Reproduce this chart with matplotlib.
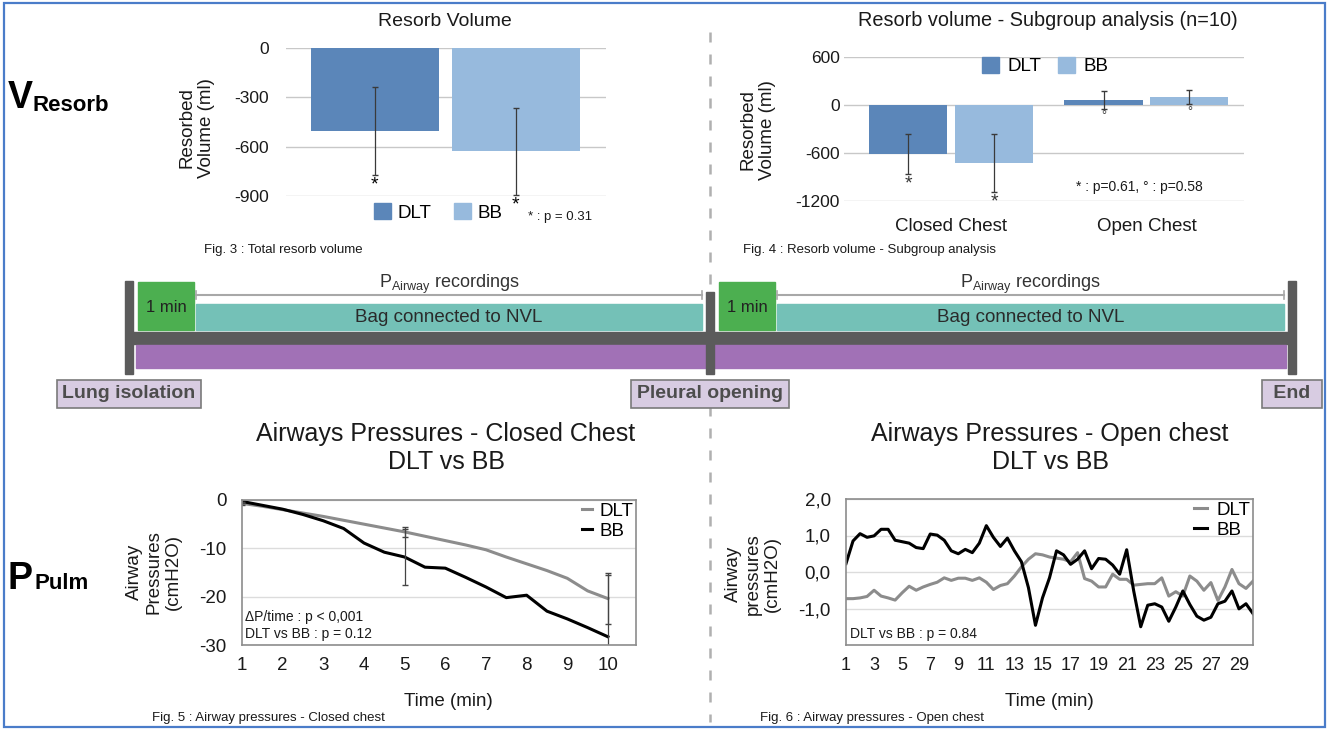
import matplotlib
matplotlib.use('Agg')
import matplotlib.pyplot as plt
from matplotlib.patches import Rectangle, Patch
import numpy as np

plt.rcParams['font.family'] = ['Liberation Sans', 'DejaVu Sans']
plt.rcParams['mathtext.fontset'] = 'custom'
plt.rcParams['mathtext.rm'] = 'Liberation Sans'
plt.rcParams['axes.unicode_minus'] = False

W, H = 1329, 730

# Fig. 3 : total resorb volume
resorb_groups = ['DLT', 'BB']
resorb_mean = [-505, -627]
resorb_err = [265, 265]

# Fig. 4 : subgroup analysis
subgroup_categories = ['Closed Chest', 'Open Chest']
subgroup_dlt = [-612, 60]
subgroup_dlt_err = [250, 110]
subgroup_bb = [-725, 100]
subgroup_bb_err = [360, 90]
subgroup_marks = ['*', '°']

# Fig. 5 : airway pressures, closed chest
closed_time = [1, 1.5, 2, 2.5, 3, 3.5, 4, 4.5, 5, 5.5, 6, 6.5, 7, 7.5, 8, 8.5, 9, 9.5, 10]
closed_dlt = [-0.7, -1.3, -2.0, -2.7, -3.4, -4.2, -5.0, -5.8, -6.6, -7.5, -8.4, -9.3, -10.3,
              -11.8, -13.2, -14.6, -16.2, -18.8, -20.4]
closed_bb = [-0.3, -1.1, -1.9, -3.0, -4.3, -5.9, -8.9, -10.8, -11.8, -13.9, -14.1, -16.0, -18.0,
             -20.2, -19.7, -23.0, -24.6, -26.4, -28.3]
closed_err_time = [1, 5, 10]
closed_dlt_err = [0.3, 1.0, 5.3]
closed_bb_err = [0.3, 5.7, 12.7]

# Fig. 6 : airway pressures, open chest
open_time = [1, 1.5, 2, 2.5, 3, 3.5, 4, 4.5, 5, 5.5, 6, 6.5, 7, 7.5, 8, 8.5, 9, 9.5, 10, 10.5,
             11, 11.5, 12, 12.5, 13, 13.5, 14, 14.5, 15, 15.5, 16, 16.5, 17, 17.5, 18, 18.5, 19, 19.5,
             20, 20.5, 21, 21.5, 22, 22.5, 23, 23.5, 24, 24.5, 25, 25.5, 26, 26.5, 27, 27.5, 28, 28.5,
             29, 29.5, 30]
open_dlt = [-0.73, -0.73, -0.71, -0.67, -0.50, -0.66, -0.71, -0.77, -0.57, -0.39,
            -0.50, -0.41, -0.34, -0.28, -0.16, -0.23, -0.17, -0.17, -0.23, -0.16,
            -0.28, -0.48, -0.37, -0.32, -0.11, 0.14, 0.35, 0.50, 0.47, 0.41,
            0.38, 0.35, 0.28, 0.53, -0.18, -0.25, -0.41, -0.41, -0.06, -0.20,
            -0.20, -0.36, -0.34, -0.32, -0.32, -0.16, -0.66, -0.54, -0.66, -0.11,
            -0.25, -0.50, -0.29, -0.78, -0.41, 0.07, -0.32, -0.45, -0.25]
open_bb = [0.23, 0.85, 1.05, 0.95, 0.99, 1.17, 1.17, 0.87, 0.83, 0.79,
           0.67, 0.64, 1.04, 1.01, 0.87, 0.58, 0.50, 0.62, 0.53, 0.79,
           1.27, 0.95, 0.70, 0.93, 0.58, 0.28, -0.43, -1.46, -0.71, -0.16,
           0.58, 0.47, 0.21, 0.35, 0.58, 0.09, 0.37, 0.35, 0.19, -0.06,
           0.61, -0.52, -1.50, -0.91, -0.87, -0.96, -1.35, -0.96, -0.52, -0.89,
           -1.21, -1.32, -1.24, -0.87, -0.80, -0.52, -1.01, -0.87, -1.14]
open_xticks = [1, 3, 5, 7, 9, 11, 13, 15, 17, 19, 21, 23, 25, 27, 29]
open_yticks = [2, 1, 0, -1]
open_ytick_labels = ['2,0', '1,0', '0,0', '-1,0']

# protocol timeline
timeline_events = ['Lung isolation', 'Pleural opening', ' End ']
phase_wait = '1 min'
phase_bag = 'Bag connected to NVL'
phase_record = r'P$_{\mathregular{Airway}}$ recordings'

C_DLT_BAR = '#5b86b9'
C_BB_BAR = '#97badd'
C_DLT_LINE = '#8c8c8c'
C_BB_LINE = '#000000'
C_TEXT = '#1a1a1a'


def px_axes(fig, left, top, right, bottom):
    """Axes placed by pixel box of the 1329x730 canvas."""
    ax = fig.add_axes([left / W, 1 - bottom / H, (right - left) / W, (bottom - top) / H])
    ax.set_facecolor('none')
    return ax


def bar_style(ax, ticks):
    ax.set_yticks(ticks)
    ax.grid(axis='y', color='#c8c8c8', lw=1)
    ax.set_axisbelow(True)
    for s in ax.spines.values():
        s.set_visible(False)
    ax.tick_params(length=0, labelsize=12.5, colors=C_TEXT)


def line_style(ax):
    ax.grid(axis='y', color='#dcdcdc', lw=1)
    ax.set_axisbelow(True)
    for s in ax.spines.values():
        s.set_color('#8c8c8c')
        s.set_linewidth(1.2)
    ax.tick_params(length=0, labelsize=13.5, colors=C_TEXT)
    ax.tick_params(axis='y', pad=11)
    ax.tick_params(axis='x', pad=9)


fig = plt.figure(figsize=(W / 100, H / 100), dpi=100)

# overlay for the diagram and loose texts, in pixel coordinates
ov = fig.add_axes([0, 0, 1, 1], zorder=0)
ov.set_xlim(0, W)
ov.set_ylim(H, 0)
ov.axis('off')

ov.add_patch(Rectangle((4, 3), W - 8, H - 6, fill=False, ec='#4a7cc9', lw=1.6))
ov.plot([710, 710], [32, 722], color='#b0b0b0', lw=1.8, linestyle=(0, (4, 4.8)), zorder=1)

# --- Fig. 3
ax1 = px_axes(fig, 286, 48, 606, 196)
pos = np.arange(len(resorb_groups))
ax1.bar(pos, resorb_mean, width=0.91, color=[C_DLT_BAR, C_BB_BAR], zorder=2)
ax1.errorbar(pos, resorb_mean, yerr=resorb_err, fmt='none', ecolor='#3a3a3a', elinewidth=0.9,
             capsize=2, zorder=3)
for p, m, e in zip(pos, resorb_mean, resorb_err):
    ax1.annotate('*', (p, max(m - e, -900)), xytext=(0, -1), textcoords='offset points',
                 ha='center', va='top', fontsize=14, annotation_clip=False)
ax1.set_ylim(-900, 0)
ax1.set_xlim(-0.63, 1.64)
ax1.set_xticks([])
bar_style(ax1, [0, -300, -600, -900])
ax1.tick_params(axis='y', pad=12)
ax1.legend([Patch(color=C_DLT_BAR), Patch(color=C_BB_BAR)], resorb_groups, ncol=2,
           loc='upper left', bbox_to_anchor=(0.275, -0.05), frameon=False, fontsize=13.5,
           handlelength=0.9, handleheight=0.9, handletextpad=0.35, columnspacing=1.2,
           borderpad=0, borderaxespad=0)

# --- Fig. 4
ax2 = px_axes(fig, 844, 57, 1244, 201)
cat = np.arange(len(subgroup_categories))
ax2.bar(cat - 0.22, subgroup_dlt, 0.40, color=C_DLT_BAR, zorder=2)
ax2.bar(cat + 0.22, subgroup_bb, 0.40, color=C_BB_BAR, zorder=2)
ax2.errorbar(cat - 0.22, subgroup_dlt, yerr=subgroup_dlt_err, fmt='none', ecolor='#3a3a3a',
             elinewidth=0.9, capsize=2, zorder=3)
ax2.errorbar(cat + 0.22, subgroup_bb, yerr=subgroup_bb_err, fmt='none', ecolor='#3a3a3a',
             elinewidth=0.9, capsize=2, zorder=3)
for c, mark in zip(cat, subgroup_marks):
    for off, vals, errs in [(-0.22, subgroup_dlt, subgroup_dlt_err), (0.22, subgroup_bb, subgroup_bb_err)]:
        ax2.annotate(mark, (c + off, vals[c] - errs[c]), xytext=(0, -1), textcoords='offset points',
                     ha='center', va='top', fontsize=14 if mark == '*' else 9, color='#333333')
ax2.set_ylim(-1200, 600)
ax2.set_xlim(-0.55, 1.50)
ax2.set_xticks(cat, subgroup_categories)
bar_style(ax2, [600, 0, -600, -1200])
ax2.tick_params(axis='y', pad=3)
ax2.tick_params(axis='x', pad=12, labelsize=13.5)
ax2.legend([Patch(color=C_DLT_BAR), Patch(color=C_BB_BAR)], resorb_groups, ncol=2,
           loc='upper left', bbox_to_anchor=(0.345, 1.0), frameon=False, fontsize=13.5,
           handlelength=0.9, handleheight=0.9, handletextpad=0.45, columnspacing=0.9,
           borderpad=0, borderaxespad=0)

# --- Fig. 5
ax3 = px_axes(fig, 242, 500, 636, 645)
ax3.plot(closed_time, closed_dlt, color=C_DLT_LINE, lw=2.2, label='DLT')
ax3.plot(closed_time, closed_bb, color=C_BB_LINE, lw=2.2, label='BB')
idx = [closed_time.index(t) for t in closed_err_time]
ax3.errorbar(closed_err_time, [closed_dlt[i] for i in idx], yerr=closed_dlt_err, fmt='none',
             ecolor='#444444', elinewidth=0.9, capsize=2.5)
ax3.errorbar(closed_err_time, [closed_bb[i] for i in idx], yerr=closed_bb_err, fmt='none',
             ecolor='#444444', elinewidth=0.9, capsize=2.5)
ax3.set_xlim(1, 10.69)
ax3.set_ylim(-30, 0)
ax3.set_xticks(range(1, 11))
ax3.set_yticks([0, -10, -20, -30])
line_style(ax3)
ax3.legend(loc='upper right', frameon=False, fontsize=13.5, handlelength=0.55, handletextpad=0.4,
           labelspacing=0.15, borderpad=0, borderaxespad=0.15)

# --- Fig. 6
ax4 = px_axes(fig, 846, 499, 1253, 645)
ax4.plot(open_time, open_dlt, color=C_DLT_LINE, lw=2.2, label='DLT')
ax4.plot(open_time, open_bb, color=C_BB_LINE, lw=2.2, label='BB')
ax4.set_xlim(1, 30)
ax4.set_ylim(-2, 2)
ax4.set_xticks(open_xticks)
ax4.set_yticks(open_yticks, open_ytick_labels)
line_style(ax4)
ax4.tick_params(axis='x', labelsize=13)
ax4.legend(loc='upper right', frameon=False, fontsize=13.5, handlelength=0.7, handletextpad=0.5,
           labelspacing=0.15, borderpad=0, borderaxespad=0.15)

# --- side headings
ov.text(8, 108, 'V', fontsize=27, fontweight='bold', va='baseline', color='black')
ov.text(33, 111, 'Resorb', fontsize=16, fontweight='bold', va='baseline', color='black')
ov.text(8, 589, 'P', fontsize=27, fontweight='bold', va='baseline', color='black')
ov.text(34, 589, 'Pulm', fontsize=16, fontweight='bold', va='baseline', color='black')

# --- titles, axis labels, captions
ov.text(445, 21, 'Resorb Volume', ha='center', va='center', fontsize=14, color=C_TEXT)
ov.text(1048, 21, 'Resorb volume - Subgroup analysis (n=10)', ha='center', va='center',
        fontsize=14.3, color=C_TEXT)
ov.text(197, 128, 'Resorbed\nVolume (ml)', rotation=90, ha='center', va='center', fontsize=13.5,
        multialignment='center', color=C_TEXT)
ov.text(758, 130, 'Resorbed\nVolume (ml)', rotation=90, ha='center', va='center', fontsize=13.5,
        multialignment='center', color=C_TEXT)
ov.text(528, 217, '* : p = 0.31', va='center', fontsize=9.5, color=C_TEXT)
ov.text(1076, 187, '* : p=0.61, ° : p=0.58', va='center', fontsize=10, color=C_TEXT)
ov.text(204, 250, 'Fig. 3 : Total resorb volume', va='center', fontsize=9.5, color=C_TEXT)
ov.text(743, 250, 'Fig. 4 : Resorb volume - Subgroup analysis', va='center', fontsize=9.5, color=C_TEXT)

ov.text(446, 448, 'Airways Pressures - Closed Chest\nDLT vs BB', ha='center', va='center',
        fontsize=18, color=C_TEXT)
ov.text(1050, 448, 'Airways Pressures - Open chest\nDLT vs BB', ha='center', va='center',
        fontsize=18, color=C_TEXT)
ov.text(154, 572, 'Airway\nPressures\n(cmH2O)', rotation=90, ha='center', va='center',
        fontsize=13.5, multialignment='center', color=C_TEXT)
ov.text(753, 574, 'Airway\npressures\n(cmH2O)', rotation=90, ha='center', va='center',
        fontsize=13.5, multialignment='center', color=C_TEXT)
ov.text(448, 702, 'Time (min)', ha='center', va='center', fontsize=13.5, color=C_TEXT)
ov.text(1049, 702, 'Time (min)', ha='center', va='center', fontsize=13.5, color=C_TEXT)
ov.text(245, 617, '\u0394P/time : p < 0,001', va='center', fontsize=10, color=C_TEXT)
ov.text(245, 634, 'DLT vs BB : p = 0.12', va='center', fontsize=10, color=C_TEXT)
ov.text(850, 634, 'DLT vs BB : p = 0.84', va='center', fontsize=10, color=C_TEXT)
ov.text(152, 718, 'Fig. 5 : Airway pressures - Closed chest', va='center', fontsize=9.5, color=C_TEXT)
ov.text(760, 718, 'Fig. 6 : Airway pressures - Open chest', va='center', fontsize=9.5, color=C_TEXT)

# --- protocol timeline
event_x = [129, 710, 1292]
ov.add_patch(Rectangle((event_x[0] - 2, 332), event_x[-1] - event_x[0] + 4, 12, color='#5b5b5b', zorder=2))
ov.add_patch(Rectangle((event_x[0] + 7, 345), event_x[-1] - event_x[0] - 13, 23, color='#a171b6', zorder=2))
for i, (x, name) in enumerate(zip(event_x, timeline_events)):
    top = 292 if 0 < i < len(event_x) - 1 else 281
    ov.add_patch(Rectangle((x - 4, top), 8, 374 - top, color='#5b5b5b', zorder=3))
    ov.text(x, 394, name, ha='center', va='center', fontsize=14, fontweight='bold', color='#4d4d4d',
            zorder=4, bbox=dict(boxstyle='square,pad=0.3', fc='#d8cce2', ec='#7a7a7a', lw=1.2))
for start, end in zip(event_x[:-1], event_x[1:]):
    ov.add_patch(Rectangle((start + 9, 282), 56, 48, color='#4caf50', zorder=2))
    ov.text(start + 37, 307, phase_wait, ha='center', va='center', fontsize=12, color='#222222', zorder=4)
    ov.add_patch(Rectangle((start + 67, 304), end - start - 75, 26, color='#74c1b7', zorder=2))
    mid = (start + 67 + end - 8) / 2
    ov.text(mid, 318, phase_bag, ha='center', va='center', fontsize=13.5, color='#2a2a2a', zorder=4)
    ov.plot([start + 67, end - 8], [295, 295], color='#a8a8a8', lw=1.5, zorder=2)
    for bx in (start + 67, end - 8):
        ov.plot([bx, bx], [291, 299], color='#a8a8a8', lw=1.2, zorder=2)
    ov.text(mid, 284, phase_record, ha='center', va='center', fontsize=13, color='#333333', zorder=4)

fig.savefig('out.png', dpi=100)
